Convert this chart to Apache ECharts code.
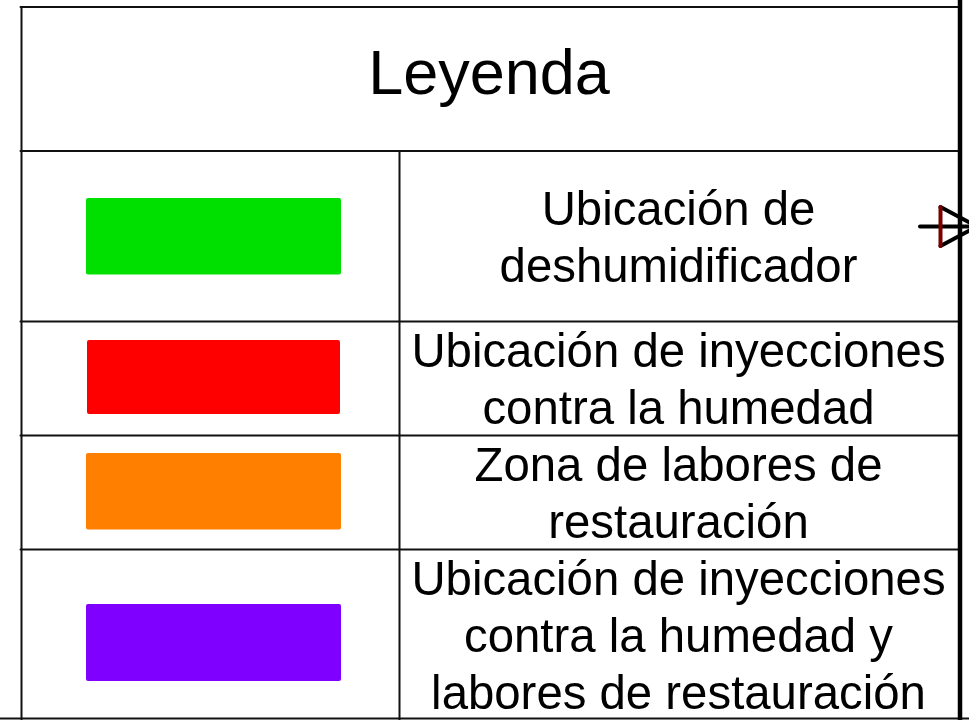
<!DOCTYPE html>
<html>
<head>
<meta charset="utf-8">
<style>html,body{margin:0;padding:0;background:#fff}#c{width:969px;height:720px}</style>
<script src="https://cdn.jsdelivr.net/npm/echarts@6/dist/echarts.min.js"></script>
</head>
<body>
<div id="c"></div>
<script>
var legendTitle = 'Leyenda';
var legendLabels = [
  'Ubicación de\ndeshumidificador',
  'Ubicación de inyecciones\ncontra la humedad',
  'Zona de labores de\nrestauración',
  'Ubicación de inyecciones\ncontra la humedad y\nlabores de restauración'
];
var swatchColors = ['#00e000', '#ff0000', '#ff8000', '#8000ff'];

// Page layout, in the 969x720 coordinate space of the hidden axes
var swatchBoxes = [[86, 198, 341, 274.5], [87, 340, 340, 414], [86, 453, 341, 529.5], [86, 604, 341, 681]];
var labelCentres = [[678.5, 240], [678.5, 382.5], [678.5, 496.5], [678.5, 639]];
var tableLines = [
  [21.5, 7, 21.5, 720], [20.5, 7, 958, 7], [20.5, 151, 958, 151], [399.5, 151, 399.5, 720],
  [20.5, 321.5, 958, 321.5], [20.5, 435.5, 958, 435.5], [20.5, 549.5, 958, 549.5], [0, 718.5, 969, 718.5]
];
var symbolLines = [[920, 226.5, 980, 226.5], [940.5, 207, 980, 228], [940.5, 246, 980, 225]];
var symbolBar = [[940.5, 207, 940.5, 246]];
var frameLine = [[960, 0, 960, 720]];

function lineSeries(data, color, width, z) {
  return {
    type: 'custom', coordinateSystem: 'cartesian2d', silent: true, z: z, clip: true,
    data: data,
    renderItem: function (params, api) {
      var a = api.coord([api.value(0), api.value(1)]);
      var b = api.coord([api.value(2), api.value(3)]);
      return { type: 'line', shape: { x1: a[0], y1: a[1], x2: b[0], y2: b[1] },
        style: { stroke: color, lineWidth: width, lineCap: 'round' } };
    }
  };
}
function textSeries(data, size, lh, z) {
  return {
    type: 'custom', coordinateSystem: 'cartesian2d', silent: true, z: z,
    data: data,
    renderItem: function (params, api) {
      var p = api.coord([api.value(0), api.value(1)]);
      return { type: 'text', style: {
        x: p[0], y: p[1], text: data[params.dataIndex][2],
        fill: '#000', align: 'center', verticalAlign: 'middle',
        fontFamily: '"Liberation Sans", Arial, sans-serif', fontSize: size, lineHeight: lh } };
    }
  };
}

var chart = echarts.init(document.getElementById('c'), null, { renderer: 'canvas' });
chart.setOption({
  animation: false,
  backgroundColor: '#ffffff',
  grid: { left: 0, right: 0, top: 0, bottom: 0 },
  xAxis: { type: 'value', min: 0, max: 969, show: false },
  yAxis: { type: 'value', min: 0, max: 720, inverse: true, show: false },
  series: [
    lineSeries(tableLines, '#111111', 2, 2),
    {
      type: 'custom', coordinateSystem: 'cartesian2d', silent: true, z: 3,
      data: swatchBoxes,
      renderItem: function (params, api) {
        var a = api.coord([api.value(0), api.value(1)]);
        var b = api.coord([api.value(2), api.value(3)]);
        return { type: 'rect', shape: { x: a[0], y: a[1], width: b[0] - a[0], height: b[1] - a[1], r: 2 },
          style: { fill: swatchColors[params.dataIndex] } };
      }
    },
    textSeries([[489, 77, legendTitle]], 63, 70, 4),
    textSeries(labelCentres.map(function (c, i) { return [c[0], c[1], legendLabels[i]]; }), 47.35, 57, 4),
    lineSeries(symbolLines, '#000000', 4, 5),
    lineSeries(symbolBar, '#7b0000', 4, 6),
    lineSeries(frameLine, '#000000', 4.5, 7)
  ]
});
</script>
</body>
</html>
